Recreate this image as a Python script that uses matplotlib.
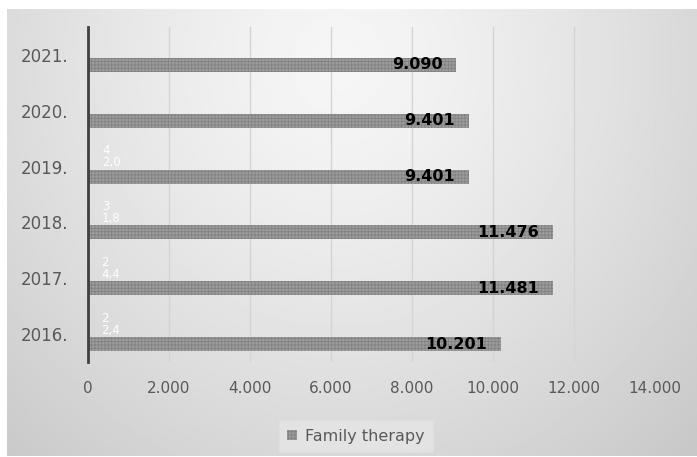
import numpy as np
import matplotlib
matplotlib.use("Agg")
import matplotlib.pyplot as plt

# Data
years = ["2016.", "2017.", "2018.", "2019.", "2020.", "2021."]
family_therapy = [10201, 11481, 11476, 9401, 9401, 9090]
family_labels = ["10.201", "11.481", "11.476", "9.401", "9.401", "9.090"]
# second series (practically invisible, only white labels show)
other_values = [22.4, 24.4, 31.8, 42.0, 0, 0]
other_labels = ["2\n2,4", "2\n4,4", "3\n1,8", "4\n2,0", "", ""]
x_ticks = [0, 2000, 4000, 6000, 8000, 10000, 12000, 14000]
x_ticklabels = ["0", "2.000", "4.000", "6.000", "8.000", "10.000", "12.000", "14.000"]

plt.rcParams["hatch.linewidth"] = 0.6
txt_color = "#595959"

W, H = 697, 457
fig = plt.figure(figsize=(W / 100, H / 100), dpi=100)
fig.patch.set_facecolor("white")

# gradient chart background
bg = fig.add_axes([7 / W, 1 - 456 / H, 690 / W, 447 / H])
gx, gy = np.meshgrid(np.linspace(0, 1, 300), np.linspace(0, 1, 200))
d = np.sqrt(((gx - 0.48) / 0.6) ** 2 + ((gy - 0.12) / 1.0) ** 2)
val = np.clip(0.965 - 0.14 * d ** 1.3, 0.78, 1.0)
bg.imshow(val, cmap="gray", vmin=0, vmax=1, aspect="auto", extent=[0, 1, 1, 0])
bg.set_axis_off()

ax = fig.add_axes([88 / W, 1 - 362 / H, (655 - 88) / W, (362 - 27) / H])
ax.patch.set_alpha(0)

y = np.arange(len(years))
bh = 0.25
off = 0.18

bars = ax.barh(y - off, family_therapy, height=bh, color="#9c9c9c",
               edgecolor="#828282", hatch="+++++", linewidth=0,
               label="Family therapy", zorder=3)
ax.barh(y + off, other_values, height=bh, color="white", linewidth=0, zorder=3)

for yi, v, lab in zip(y, family_therapy, family_labels):
    ax.annotate(lab, (v, yi - off), xytext=(-10, 0), textcoords="offset points",
                ha="right", va="center", fontsize=11.5, fontweight="bold",
                color="black", zorder=4)
for yi, v, lab in zip(y, other_values, other_labels):
    ax.annotate(lab, (v, yi + off), xytext=(9, 0), textcoords="offset points",
                ha="left", va="center", fontsize=8.5, color="white",
                linespacing=0.9, zorder=4)

ax.set_xlim(0, 14000)
ax.set_ylim(-0.5, len(years) - 0.5)
ax.set_xticks(x_ticks)
ax.set_xticklabels(x_ticklabels)
ax.set_yticks(y)
ax.set_yticklabels(years)
ax.tick_params(axis="x", length=0, pad=14, labelsize=11, labelcolor=txt_color)
ax.tick_params(axis="y", length=0, pad=14, labelsize=12, labelcolor=txt_color)

ax.grid(axis="x", color="#d4d4d4", linewidth=1, zorder=0)
for s in ["top", "right", "bottom"]:
    ax.spines[s].set_visible(False)
ax.spines["left"].set_color("#404040")
ax.spines["left"].set_linewidth(2)
ax.spines["left"].set_zorder(5)

leg = fig.legend(handles=[bars], labels=["Family therapy"], loc="center",
                 bbox_to_anchor=(356 / W, 1 - 436 / H), frameon=True,
                 fontsize=11.5, handlelength=0.6, handleheight=0.6,
                 handletextpad=0.5, borderpad=0.55, borderaxespad=0,
                 fancybox=False)
leg.get_frame().set_facecolor("#e6e6e6")
leg.get_frame().set_edgecolor("#e0e0e0")
for t in leg.get_texts():
    t.set_color(txt_color)

fig.savefig("out.png", dpi=100)
